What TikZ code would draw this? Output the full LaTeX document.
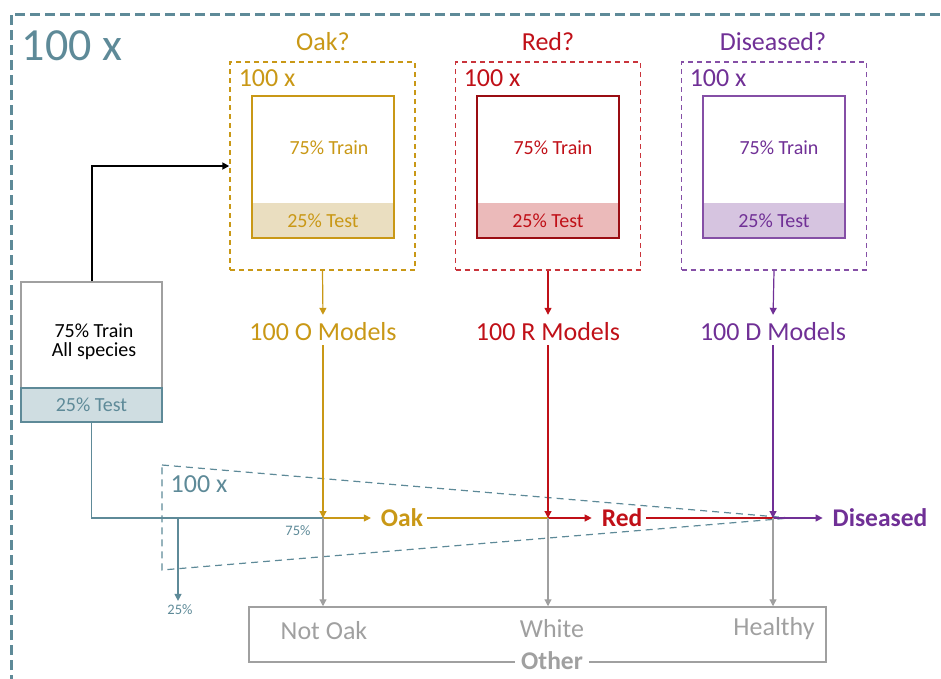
\documentclass[tikz,border=0pt]{standalone}
\usepackage{fontspec}
\setmainfont{Carlito}
\usetikzlibrary{arrows.meta}

\definecolor{tealc}{RGB}{94,138,152}
\definecolor{teallt}{RGB}{207,221,225}
\definecolor{goldc}{RGB}{201,152,22}
\definecolor{goldlt}{RGB}{234,222,192}
\definecolor{redc}{RGB}{192,16,24}
\definecolor{redlt}{RGB}{235,186,186}
\definecolor{purc}{RGB}{112,48,150}
\definecolor{purlt}{RGB}{214,196,224}
\definecolor{grayc}{RGB}{160,160,160}

\begin{document}
\begin{tikzpicture}[
    x=1pt, y=-1pt, % pixel grid, y downwards
    line width=1.5pt, % line style
    > = {Triangle[length=7pt,width=7pt]}, % arrow head style
    bigtxt/.style={font=\fontsize{26}{30}\selectfont},
    boldtxt/.style={font=\fontsize{25.5}{30}\selectfont\bfseries},
    midtxt/.style={font=\fontsize{20}{23}\selectfont},
    smalltxt/.style={font=\fontsize{14.5}{17}\selectfont},
    fold/.style={draw, dash pattern=on 5pt off 4pt, minimum width=185pt, minimum height=208pt},
    inbox/.style={draw, minimum width=142pt, minimum height=142pt, inner sep=0pt},
    band/.style={minimum width=142pt, minimum height=35pt, inner sep=0pt},
]
\useasboundingbox (0,0) rectangle (941,678);

% outer repetition frame
\draw[tealc, line width=3pt, dash pattern=on 10pt off 5pt] (11,700) -- (11,14) -- (960,14);
\node[tealc, font=\fontsize{46}{52}\selectfont] (outerx) at (72,46) {100 x};

% species split
\draw[tealc, line width=1.2pt, dash pattern=on 7pt off 5pt] (162,465) -- (790,518) -- (162,570) -- cycle;
\node[tealc, bigtxt] (splitx) at (199,484) {100 x};

% Oak
\node[goldc, bigtxt] (oakq) at (323,42) {Oak?};
\node[fold, draw=goldc] (oakfold) at (322.5,166) {};
\node[goldc, bigtxt, anchor=west, inner sep=0pt] (oakx) at (238,78) {100 x};
\node[band, fill=goldlt, text=goldc, midtxt] (oaktest) at (323,220.5) {25\% Test};
\node[inbox, draw=goldc] (oakin) at (323,167) {};
\node[goldc, midtxt] (oaktrain) at (329,148) {75\% Train};
\node[goldc, bigtxt] (oakmod) at (323,332) {100 O Models};

% Red
\node[redc, bigtxt] (redq) at (548,42) {Red?};
\node[fold, draw=redc!85] (redfold) at (548,166) {};
\node[redc, bigtxt, anchor=west, inner sep=0pt] (redx) at (463,78) {100 x};
\node[band, fill=redlt, text=redc, midtxt] (redtest) at (548,220.5) {25\% Test};
\node[inbox, draw=redc!80!black] (redin) at (548,167) {};
\node[redc, midtxt] (redtrain) at (553,148) {75\% Train};
\node[redc, bigtxt] (redmod) at (548,332) {100 R Models};

% Diseased
\node[purc, bigtxt] (disq) at (773,42) {Diseased?};
\node[fold, draw=purc!85] (disfold) at (774,166) {};
\node[purc, bigtxt, anchor=west, inner sep=0pt] (disx) at (689,78) {100 x};
\node[band, fill=purlt, text=purc, midtxt] (distest) at (774,220.5) {25\% Test};
\node[inbox, draw=purc!85] (disin) at (774,167) {};
\node[purc, midtxt] (distrain) at (779,148) {75\% Train};
\node[purc, bigtxt] (dismod) at (773,332) {100 D Models};

% all species data
\node[draw=grayc, minimum width=141pt, minimum height=106pt] (alltrain) at (91.5,335) {};
\node[align=center, midtxt, inner sep=0pt] (alltxt) at (94,342) {75\% Train\\[-4pt]All species};
\node[band, draw=tealc, fill=teallt, text=tealc, midtxt, minimum width=141pt, minimum height=34pt] (alltest) at (91.5,405) {25\% Test};
\draw[->, line width=2pt] (alltrain.north) |- (oakfold.west);

% decision chain
\coordinate (oakj) at (323,518);
\coordinate (redj) at (548,518);
\coordinate (disj) at (773,518);
\coordinate (splitj) at (178,518);
\node[goldc, boldtxt] (oak) at (402,518) {Oak};
\node[redc, boldtxt] (red) at (622,518) {Red};
\node[purc, boldtxt] (dis) at (880,518) {Diseased};
\node[tealc, smalltxt] (pct75) at (298,531) {75\%};
\node[tealc, smalltxt] (pct25) at (180,610) {25\%};

\draw[tealc, line width=1.2pt] (alltest.south) |- (oakj);
\draw[->, tealc, line width=1.2pt] (splitj) -- (splitj |- pct25.north);

\draw[->, goldc, line width=1.2pt, shorten >=4pt] (oakfold.south) -- (oakmod.north);
\draw[->, redc, line width=1.2pt, shorten >=4pt] (redfold.south) -- (redmod.north);
\draw[->, purc, line width=1.2pt, shorten >=4pt] (disfold.south) -- (dismod.north);
\draw[->, goldc, line width=1.2pt] (oakmod.south) -- (oakj);
\draw[->, redc, line width=1.2pt] (redmod.south) -- (redj);
\draw[->, purc, line width=1.2pt] (dismod.south) -- (disj);

\draw[->, goldc, line width=1.2pt, shorten >=6pt] (oakj) -- (oak.west);
\draw[goldc, line width=1.2pt] (oak.east) -- (redj);
\draw[->, redc, line width=1.2pt, shorten >=6pt] (redj) -- (red.west);
\draw[redc, line width=1.2pt] (red.east) -- (disj);
\draw[->, purc, line width=1.2pt, shorten >=6pt] (disj) -- (dis.west);

% other classes
\node[draw=grayc, minimum width=577pt, minimum height=55pt] (other) at (537.5,634.5) {};
\node[grayc, bigtxt] (notoak) at (324,631) {Not Oak};
\node[grayc, bigtxt] (white) at (552,629) {White};
\node[grayc, bigtxt] (healthy) at (774,629) {Healthy};
\node[grayc, boldtxt, fill=white, inner sep=6pt] (otherlbl) at (552,661) {Other};
\draw[->, grayc, line width=1.2pt] (oakj) -- (oakj |- other.north);
\draw[->, grayc, line width=1.2pt] (redj) -- (redj |- other.north);
\draw[->, grayc, line width=1.2pt] (disj) -- (disj |- other.north);
\end{tikzpicture}
\end{document}
